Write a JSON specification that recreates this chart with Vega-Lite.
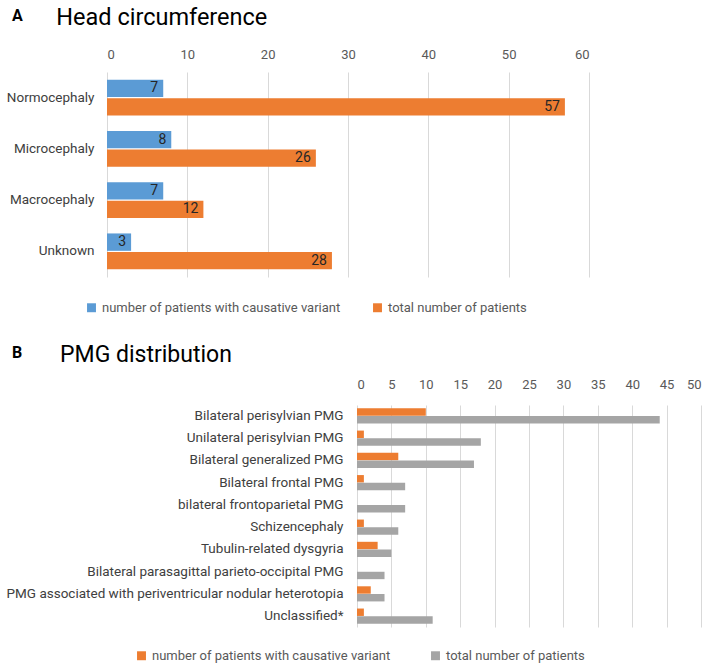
{
  "$schema": "https://vega.github.io/schema/vega-lite/v6.json",
  "background": "white",
  "padding": {"left": 5, "top": 5, "right": 5, "bottom": 5},
  "config": {
    "font": "Roboto",
    "view": {"stroke": null},
    "axis": {"domain": false, "ticks": false, "grid": true, "gridColor": "#D9D9D9", "labelColor": "#595959", "title": null},
    "legend": {"title": null, "orient": "none", "direction": "horizontal", "symbolType": "square", "labelColor": "#595959", "columnPadding": 38, "symbolStrokeWidth": 0, "labelLimit": 400},
    "title": {"color": "#000000", "anchor": "start", "frame": "bounds"}
  },
  "resolve": {"scale": {"color": "independent", "yOffset": "independent", "y": "independent", "x": "independent"}, "legend": {"color": "independent"}},
  "spacing": 29,
  "columns": 1,
  "concat": [
    {
      "title": {"text": "A", "fontSize": 16, "fontWeight": "bold", "dx": 7, "dy": 18, "offset": 0},
      "spacing": 0,
      "resolve": {"scale": {"color": "independent", "yOffset": "independent", "y": "independent", "x": "independent"}},
      "hconcat": [
        {"width": 1, "height": 1, "data": {"values": []}, "mark": {"type": "point"}, "encoding": {}},
        {
          "title": {"text": "Head circumference", "fontSize": 23.5, "fontWeight": "normal", "dx": 50, "dy": -17, "offset": 2},
          "width": 482,
          "height": 205,
          "data": {"values": [
            {"category": "Normocephaly", "series": "number of patients with causative variant", "value": 7},
            {"category": "Normocephaly", "series": "total number of patients", "value": 57},
            {"category": "Microcephaly", "series": "number of patients with causative variant", "value": 8},
            {"category": "Microcephaly", "series": "total number of patients", "value": 26},
            {"category": "Macrocephaly", "series": "number of patients with causative variant", "value": 7},
            {"category": "Macrocephaly", "series": "total number of patients", "value": 12},
            {"category": "Unknown", "series": "number of patients with causative variant", "value": 3},
            {"category": "Unknown", "series": "total number of patients", "value": 28}
          ]},
          "encoding": {
            "y": {"field": "category", "type": "nominal", "sort": ["Normocephaly", "Microcephaly", "Macrocephaly", "Unknown"], "scale": {"paddingInner": 0.3, "paddingOuter": 0.15}, "axis": {"grid": false, "labelFontSize": 13.5, "labelColor": "#404040", "labelPadding": 13}},
            "yOffset": {"field": "series", "type": "nominal", "sort": ["number of patients with causative variant", "total number of patients"], "scale": {"paddingInner": 0.06}},
            "x": {"field": "value", "type": "quantitative", "scale": {"domain": [0, 60]}, "axis": {"orient": "top", "values": [0, 10, 20, 30, 40, 50, 60], "labelFontSize": 13, "labelPadding": 11}}
          },
          "layer": [
            {
              "mark": {"type": "bar"},
              "encoding": {
                "color": {"field": "series", "type": "nominal", "sort": ["number of patients with causative variant", "total number of patients"], "scale": {"range": ["#5B9BD5", "#ED7D31"]}, "legend": {"labelFontSize": 13, "symbolSize": 80, "columnPadding": 30, "legendX": -22, "legendY": 229}}
              }
            },
            {
              "mark": {"type": "text", "align": "right", "dx": -5, "fontSize": 14, "color": "#262626"},
              "encoding": {"text": {"field": "value", "type": "quantitative"}}
            }
          ]
        }
      ]
    },
    {
      "title": {"text": "B", "fontSize": 16, "fontWeight": "bold", "dx": 7, "dy": 17, "offset": 0},
      "spacing": 0,
      "resolve": {"scale": {"color": "independent", "yOffset": "independent", "y": "independent", "x": "independent"}},
      "hconcat": [
        {"width": 1, "height": 1, "data": {"values": []}, "mark": {"type": "point"}, "encoding": {}},
        {
          "title": {"text": "PMG distribution", "fontSize": 23, "fontWeight": "normal", "dx": 54, "dy": -44, "offset": -33},
          "width": 344,
          "height": 222,
          "data": {"values": [
            {"category": "Bilateral perisylvian PMG", "series": "number of patients with causative variant", "value": 10},
            {"category": "Bilateral perisylvian PMG", "series": "total number of patients", "value": 44},
            {"category": "Unilateral perisylvian PMG", "series": "number of patients with causative variant", "value": 1},
            {"category": "Unilateral perisylvian PMG", "series": "total number of patients", "value": 18},
            {"category": "Bilateral generalized PMG", "series": "number of patients with causative variant", "value": 6},
            {"category": "Bilateral generalized PMG", "series": "total number of patients", "value": 17},
            {"category": "Bilateral frontal PMG", "series": "number of patients with causative variant", "value": 1},
            {"category": "Bilateral frontal PMG", "series": "total number of patients", "value": 7},
            {"category": "bilateral frontoparietal PMG", "series": "number of patients with causative variant", "value": 0},
            {"category": "bilateral frontoparietal PMG", "series": "total number of patients", "value": 7},
            {"category": "Schizencephaly", "series": "number of patients with causative variant", "value": 1},
            {"category": "Schizencephaly", "series": "total number of patients", "value": 6},
            {"category": "Tubulin-related dysgyria", "series": "number of patients with causative variant", "value": 3},
            {"category": "Tubulin-related dysgyria", "series": "total number of patients", "value": 5},
            {"category": "Bilateral parasagittal parieto-occipital PMG", "series": "number of patients with causative variant", "value": 0},
            {"category": "Bilateral parasagittal parieto-occipital PMG", "series": "total number of patients", "value": 4},
            {"category": "PMG associated with periventricular nodular heterotopia", "series": "number of patients with causative variant", "value": 2},
            {"category": "PMG associated with periventricular nodular heterotopia", "series": "total number of patients", "value": 4},
            {"category": "Unclassified*", "series": "number of patients with causative variant", "value": 1},
            {"category": "Unclassified*", "series": "total number of patients", "value": 11}
          ]},
          "encoding": {
            "y": {"field": "category", "type": "nominal", "sort": ["Bilateral perisylvian PMG", "Unilateral perisylvian PMG", "Bilateral generalized PMG", "Bilateral frontal PMG", "bilateral frontoparietal PMG", "Schizencephaly", "Tubulin-related dysgyria", "Bilateral parasagittal parieto-occipital PMG", "PMG associated with periventricular nodular heterotopia", "Unclassified*"], "scale": {"paddingInner": 0.32, "paddingOuter": 0.15}, "axis": {"grid": false, "labelFontSize": 13.5, "labelColor": "#404040", "labelPadding": 14, "labelLimit": 400}},
            "yOffset": {"field": "series", "type": "nominal", "sort": ["number of patients with causative variant", "total number of patients"], "scale": {"paddingInner": 0.04}},
            "x": {"field": "value", "type": "quantitative", "scale": {"domain": [0, 50]}, "axis": {"orient": "top", "values": [0, 5, 10, 15, 20, 25, 30, 35, 40, 45, 50], "labelFontSize": 13, "labelPadding": 14}}
          },
          "layer": [
            {
              "mark": {"type": "bar"},
              "encoding": {
                "color": {"field": "series", "type": "nominal", "sort": ["number of patients with causative variant", "total number of patients"], "scale": {"range": ["#ED7D31", "#A5A5A5"]}, "legend": {"labelFontSize": 13, "symbolSize": 80, "legendX": -222, "legendY": 244}}
              }
            }
          ]
        }
      ]
    }
  ]
}
